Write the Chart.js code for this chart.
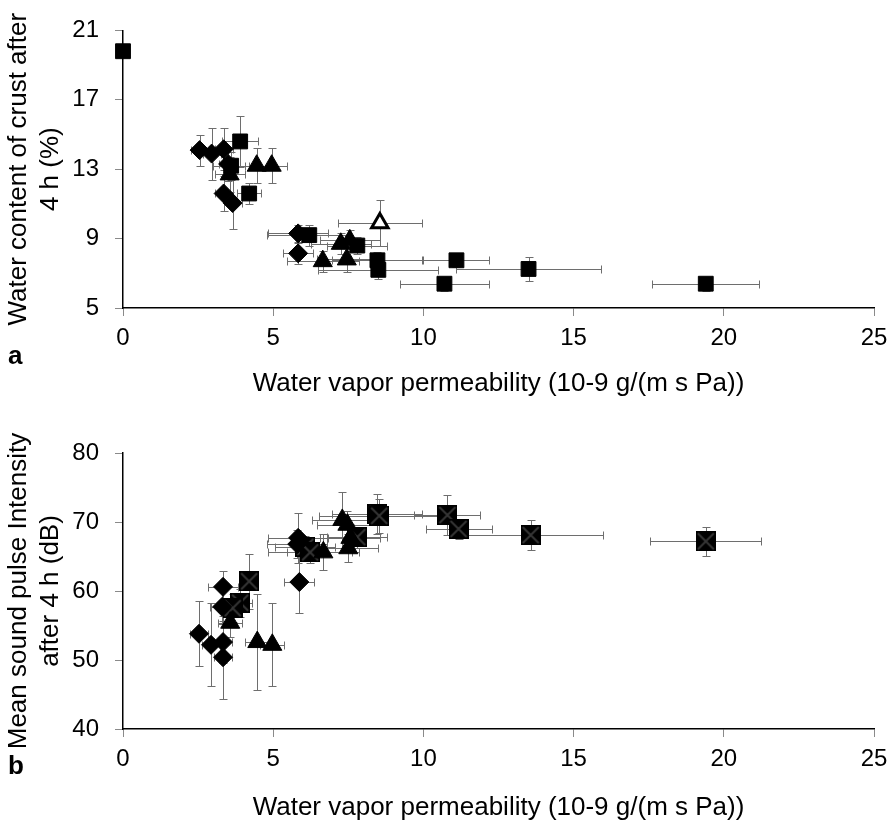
<!DOCTYPE html>
<html>
    <head>
        <title>Water vapor permeability</title>
        <script src="https://cdn.jsdelivr.net/npm/chart.js@4.4.1/dist/chart.umd.min.js"></script>
        <style>
            body { margin: 0; background: #fff; }
            .panel { position: absolute; left: 0; }
            .letter { position: absolute; left: 8px; font: bold 26px "Liberation Sans", Arial, sans-serif; color: #000; }
        </style>
    </head>
    <body>
        <div class="panel" style="top: 0"><canvas id="chartA" width="896" height="400"></canvas></div>
        <div class="panel" style="top: 400px"><canvas id="chartB" width="896" height="440"></canvas></div>
        <div class="letter" style="top: 340px">a</div>
        <div class="letter" style="top: 750px">b</div>
        <script>
            // [x, y, x error, y error]
            const topSquares = [
                [0, 19.8, 0, 0], [3.9, 14.6, 0.6, 1.45], [3.6, 13.2, 0.6, 0.8], [4.2, 11.6, 0.4, 0.6],
                [6.2, 9.2, 1.4, 0.6], [7.8, 8.6, 1.0, 0.5], [8.47, 7.75, 1.5, 0.5], [8.5, 7.2, 2.0, 0.5],
                [10.7, 6.4, 1.47, 0.4], [11.1, 7.75, 1.1, 0.4], [13.5, 7.25, 2.4, 0.7], [19.4, 6.4, 1.78, 0.4]
            ];
            const topDiamonds = [
                [2.55, 14.1, 0.3, 0.9], [2.95, 13.9, 0.3, 1.5], [3.35, 14.15, 0.3, 1.2], [3.5, 13.3, 0.3, 1.0],
                [3.35, 11.6, 0.3, 1.0], [3.65, 11.05, 0.3, 1.5], [5.83, 9.3, 1.0, 0.5], [5.83, 8.15, 0.5, 0.6]
            ];
            const topTriangles = [
                [4.45, 13.2, 0.4, 1.0], [4.95, 13.2, 0.5, 1.0], [3.55, 12.7, 0.5, 1.0], [7.25, 8.7, 1.0, 0.6],
                [7.55, 8.9, 1.0, 0.6], [6.65, 7.7, 1.2, 0.6], [7.45, 7.8, 1.0, 0.7]
            ];
            const topOpenTriangles = [[8.55, 9.9, 1.4, 1.3]];

            const bottomSquares = [
                [3.9, 58.3, 0.4, 2.0], [4.2, 61.4, 0.3, 4.0], [3.65, 57.5, 0.5, 2.0], [6.07, 66.4, 1.0, 1.5],
                [6.23, 65.6, 1.4, 1.5], [7.8, 67.8, 1.0, 1.5], [8.47, 71.1, 1.5, 2.9], [8.53, 70.9, 2.0, 2.5],
                [10.8, 71.0, 1.1, 2.9], [11.17, 69.0, 1.1, 1.5], [13.57, 68.1, 2.4, 2.2], [19.4, 67.2, 1.85, 2.1]
            ];
            const bottomDiamonds = [
                [2.53, 53.8, 0.3, 4.7], [2.93, 52.2, 0.3, 6.0], [3.33, 52.6, 0.3, 3.0], [3.33, 50.4, 0.3, 6.0],
                [3.33, 60.6, 0.5, 2.3], [3.3, 57.7, 0.4, 2.5], [5.83, 67.7, 1.0, 3.6], [5.8, 66.8, 1.0, 2.0],
                [5.87, 61.3, 0.5, 4.5]
            ];
            const bottomTriangles = [
                [3.57, 55.4, 0.4, 2.0], [4.47, 52.6, 0.4, 7.0], [4.97, 52.2, 0.4, 6.0], [6.67, 65.6, 1.2, 2.6],
                [7.3, 70.3, 1.0, 4.0], [7.47, 69.6, 1.0, 2.0], [7.57, 67.7, 1.0, 2.0], [7.5, 66.2, 1.0, 2.0]
            ];

            const xTitle = "Water vapor permeability (10-9 g/(m s Pa))";
            const topYTitle = ["Water content of crust after", "4 h (%)"];
            const bottomYTitle = ["Mean sound pulse Intensity", "after 4 h (dB)"];

            const fontFamily = '"Liberation Sans", Arial, sans-serif';

            // black square with a dark cross, used for the squares of panel b
            const crossSquare = document.createElement("canvas");
            crossSquare.width = 20;
            crossSquare.height = 20;
            const cctx = crossSquare.getContext("2d");
            cctx.fillStyle = "#000";
            cctx.fillRect(0, 0, 20, 20);
            cctx.strokeStyle = "#363636";
            cctx.lineWidth = 2;
            cctx.beginPath();
            cctx.moveTo(2, 2); cctx.lineTo(18, 18);
            cctx.moveTo(18, 2); cctx.lineTo(2, 18);
            cctx.stroke();

            const errorBars = {
                id: "errorBars",
                beforeDatasetsDraw(chart) {
                    const { ctx, scales: { x, y } } = chart;
                    ctx.save();
                    ctx.strokeStyle = "#6e6e6e";
                    ctx.lineWidth = 1;
                    chart.data.datasets.forEach(ds => {
                        ds.errors.forEach((e, i) => {
                            const p = ds.data[i];
                            const px = Math.round(x.getPixelForValue(p.x)) + 0.5;
                            const py = Math.round(y.getPixelForValue(p.y)) + 0.5;
                            ctx.beginPath();
                            if (e[0] > 0) {
                                const x1 = Math.round(x.getPixelForValue(p.x - e[0])) + 0.5;
                                const x2 = Math.round(x.getPixelForValue(p.x + e[0])) + 0.5;
                                ctx.moveTo(x1, py); ctx.lineTo(x2, py);
                                ctx.moveTo(x1, py - 4); ctx.lineTo(x1, py + 4);
                                ctx.moveTo(x2, py - 4); ctx.lineTo(x2, py + 4);
                            }
                            if (e[1] > 0) {
                                const y1 = Math.round(y.getPixelForValue(p.y - e[1])) + 0.5;
                                const y2 = Math.round(y.getPixelForValue(p.y + e[1])) + 0.5;
                                ctx.moveTo(px, y1); ctx.lineTo(px, y2);
                                ctx.moveTo(px - 4, y1); ctx.lineTo(px + 4, y1);
                                ctx.moveTo(px - 4, y2); ctx.lineTo(px + 4, y2);
                            }
                            ctx.stroke();
                        });
                    });
                    ctx.restore();
                }
            };

            const makeSet = (points, style, radius, fill, border, borderWidth) => {
                return {
                    data: points.map(p => ({ x: p[0], y: p[1] })),
                    errors: points.map(p => [p[2], p[3]]),
                    pointStyle: style,
                    pointRadius: radius,
                    backgroundColor: fill,
                    borderColor: border,
                    borderWidth: borderWidth,
                    clip: false,
                };
            };

            const makeOptions = (yMin, yMax, yStep, yTitle, padTop, xHeight, xTitlePad) => {
                const tickFont = { family: fontFamily, size: 24 };
                const titleFont = { family: fontFamily, size: 26, lineHeight: 1.23 };
                return {
                    responsive: false,
                    animation: false,
                    layout: { padding: { top: padTop, right: 22, left: 0, bottom: 0 } },
                    plugins: { legend: { display: false }, tooltip: { enabled: false } },
                    scales: {
                        x: {
                            type: "linear",
                            min: 0,
                            max: 25,
                            ticks: { stepSize: 5, color: "#000", font: tickFont, padding: 8, maxRotation: 0 },
                            grid: { drawOnChartArea: false, tickLength: 8, color: "#8a8a8a" },
                            border: { color: "#000", width: 1.5 },
                            title: { display: true, text: xTitle, color: "#000", font: titleFont, padding: { top: 0, bottom: xTitlePad } },
                            afterFit: s => { s.height = xHeight; },
                        },
                        y: {
                            min: yMin,
                            max: yMax,
                            ticks: { stepSize: yStep, color: "#000", font: tickFont, padding: 16 },
                            grid: { drawOnChartArea: false, tickLength: 8, color: "#8a8a8a" },
                            border: { color: "#000", width: 1.5 },
                            title: { display: true, text: yTitle, color: "#000", font: titleFont, padding: { top: 3, bottom: 0 } },
                            afterFit: s => { s.width = 123; },
                        },
                    },
                };
            };

            new Chart(document.getElementById("chartA"), {
                type: "scatter",
                data: {
                    datasets: [
                        makeSet(topDiamonds, "rectRot", 9.5, "#000", "#000", 1),
                        makeSet(topSquares, "rect", 10.5, "#000", "#000", 1),
                        makeSet(topTriangles, "triangle", 11, "#000", "#000", 1),
                        makeSet(topOpenTriangles, "triangle", 9.5, "#fff", "#000", 3),
                    ]
                },
                options: makeOptions(5, 21, 4, topYTitle, 18, 92, 0),
                plugins: [errorBars],
            });

            new Chart(document.getElementById("chartB"), {
                type: "scatter",
                data: {
                    datasets: [
                        makeSet(bottomDiamonds, "rectRot", 9.5, "#000", "#000", 1),
                        makeSet(bottomTriangles, "triangle", 11, "#000", "#000", 1),
                        makeSet(bottomSquares, crossSquare, 10.5, "#000", "#000", 1),
                    ]
                },
                options: makeOptions(40, 80, 10, bottomYTitle, 53, 111, 16),
                plugins: [errorBars],
            });
        </script>
    </body>
</html>
